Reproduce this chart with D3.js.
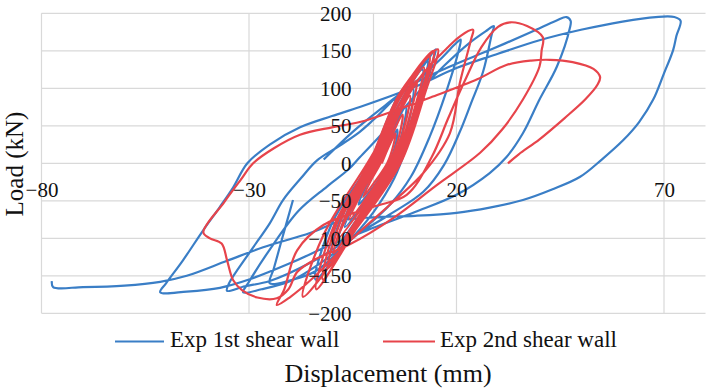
<!DOCTYPE html>
<html>
<head>
<meta charset="utf-8">
<script src="https://cdn.jsdelivr.net/npm/d3@7"></script>
<style>
  html, body { margin: 0; padding: 0; background: #fff; }
  svg { display: block; font-family: "Liberation Serif", "Times New Roman", serif; }
</style>
</head>
<body>
<svg id="chart" width="706" height="391"></svg>
<script>
// tick values
const xTicks = [-80, -30, 20, 70];
const yTicks = [-200, -150, -100, -50, 0, 50, 100, 150, 200];

// series names
const seriesNames = ['Exp 1st shear wall', 'Exp 2nd shear wall'];

// load-displacement points [mm, kN] (null = gap in the record)
const wall1 = [
  [1.5, 0], [3.5, 22], [5.7, 45], [5.4, 27], [3.7, 0], [0.5, -27.5], [-3.6, -55], [-1.5, -27.5], [1.3, 0],
  [4.7, 45], [7.8, 75], [7.1, 45], [4.3, 0], [-0.8, -42.5], [-6.9, -85], [-3.6, -42.5], [0.7, 0],
  [5.3, 60], [9.5, 100], [8.7, 60], [5, 0], [-1.6, -55], [-8.9, -110], [-5.6, -55], [0, 0],
  [5.8, 75], [11.8, 125], [10.3, 75], [5.7, 0], [-2.4, -67.5], [-10.7, -135], [-7.5, -67.5], [-0.7, 0],
  [6, 87], [13, 138], [11, 85], [6, 0], [-3, -75], [-14, -155], [-10, -80], [-1, 0],
  [6, 90], [12, 130], [15, 152], [14.5, 140], [12, 90], [8.5, 30], [5, -20], [0, -65], [-7, -110],
  [-14, -144], [-20, -156], [-25, -160], [-24, -140], [-22, -100], [-19.4, -49], null,
  [-12, 5], [-5, 42], [3, 78], [10, 108], [16, 138], [19.5, 158], [21, 165], [20.6, 152], [17.5, 95], [13.5, 35],
  [9, -18], [4, -55], [-4, -95], [-12, -130], [-20, -157], [-27, -168], [-31.4, -172],
  [-30, -158], [-25, -115], [-18, -63], [-11.2, -31], [-6, -8], [-3.3, 8], [3, 45], [10, 90], [17, 130], [23, 160],
  [27, 176], [29, 183], [28.5, 172], [26.4, 122], [23.5, 80], [20.8, 42], [17, -2], [12, -38], [4, -68], [-5, -98],
  [-15, -132], [-25, -157], [-31, -164], [-35.3, -170],
  [-34.8, -160], [-30, -120], [-25, -80], [-21.8, -49], [-17.5, -20], [-13.6, 4], [-8, 24], [-3.3, 42], [0, 58],
  [8, 100], [18, 128], [28, 151], [38, 175], [44, 190], [46.5, 195], [47.5, 190], [47.3, 180],
  [44.2, 129], [40, 85], [36, 40], [32, 8], [28, -13], [20, -42], [10, -65], [0, -86], [-10, -108], [-20, -133],
  [-30, -155], [-37, -166], [-45, -171], [-51.4, -172],
  [-50, -160], [-46, -130], [-41, -89], [-37, -58], [-33.8, -32], [-30.4, 0], [-25, 25], [-17.7, 48], [-10, 63],
  [-3.3, 75], [10, 102], [20, 127], [30, 146], [40, 164], [50, 178], [60, 189], [68, 195], [72.5, 195], [74, 190],
  [73, 170], [72.2, 151], [70, 120], [67.4, 85], [64, 55], [60.2, 31], [55, 5], [49.8, -18], [43, -35], [36, -49],
  [28, -59], [20, -66], [10, -70], [0, -72], [-7.3, -76], [-15.3, -93], [-26.6, -112], [-35.3, -130], [-45, -150],
  [-51.4, -158], [-60, -163], [-70, -165], [-77.2, -165], [-77.5, -157]
];

const wall2 = [
  [2, 0], [3.5, 20], [5.3, 40], [4.8, 24], [3.3, 0], [0.6, -22.5], [-2.5, -45], [-0.6, -22.5], [1.7, 0],
  [4.6, 39], [7, 65], [6.3, 39], [3.8, 0], [-0.6, -37.5], [-5.8, -75], [-2.7, -37.5], [1.2, 0],
  [5.2, 54], [8.8, 90], [7.7, 54], [4.3, 0], [-1.6, -50], [-8.5, -100], [-4.4, -50], [0.7, 0],
  [5.7, 66], [10.4, 110], [8.9, 66], [4.8, 0], [-2.3, -60], [-9.6, -120], [-5.9, -60], [0.2, 0],
  [6.1, 77], [12.1, 128], [10.1, 77], [5.3, 0], [-3, -70], [-11, -140], [-7.4, -70], [-0.3, 0],
  [6.2, 85], [13.5, 142], [11, 85], [5.7, 0], [-3.4, -77], [-12.2, -155], [-8.6, -77], [-0.7, 0],
  [6.2, 90], [14.5, 150], [11.7, 90], [6.1, 0], [-3.8, -84], [-13.8, -168], [-9.6, -84], [-1.1, 0],
  [6.5, 95], [15.5, 152], [12.5, 95], [6.5, 0], [-4.5, -90], [-17, -178], [-12, -95], [-1.5, 0],
  [6, 70], [12, 120], [18, 155], [21, 170], [24, 178], [23.5, 165], [20.8, 107], [18.4, 40], [12, -13], [5, -50],
  [-5, -100], [-15, -155], [-20, -178], [-23.3, -189],
  [-21.5, -168], [-18.4, -116], [-12, -82], [0, -58], [8, -42], [14, 8], [18, 60], [22, 110], [26, 155], [30, 182],
  [33, 188], [37, 183], [40.8, 168], [40.5, 150], [40, 129], [36, 85], [31, 45], [25.7, 14], [15, -30], [5, -72],
  [-5.7, -108], [-14, -128], [-18.4, -145], [-20.5, -168], [-23.3, -180], [-28, -179], [-31.7, -169], [-33.8, -156],
  [-35.3, -129], [-36.6, -107], [-39.4, -100], [-41, -92],
  [-36, -52], [-32, -22], [-29, 0], [-24, 20], [-17.7, 38], [-10, 48], [-3.3, 55], [5, 70], [14.3, 89], [25, 112],
  [32, 131], [38, 137], [42.5, 138], [48, 135], [53, 126], [54.6, 115], [54, 105], [51, 85], [46, 60], [40, 32],
  [35, 12], [32.4, 0]
];

const colors = ['#3a7ec6', '#e7444b'];
const gridColor = '#d9d9d9';

const svg = d3.select('#chart');

const x = d3.scaleLinear().domain([-80, 80]).range([41.5, 705.5]);
const y = d3.scaleLinear().domain([-200, 200]).range([313.3, 13.3]);

// gridlines
const grid = svg.append('g').attr('class', 'grid');
grid.selectAll('.hgrid')
  .data(yTicks)
  .join('line')
    .attr('class', 'hgrid')
    .attr('x1', x(-80))
    .attr('x2', x(80))
    .attr('y1', (d) => y(d))
    .attr('y2', (d) => y(d))
    .attr('stroke', gridColor)
    .attr('stroke-width', 1.2);
grid.selectAll('.vgrid')
  .data(xTicks.concat([0]))
  .join('line')
    .attr('class', 'vgrid')
    .attr('x1', (d) => x(d))
    .attr('x2', (d) => x(d))
    .attr('y1', y(200))
    .attr('y2', y(-200))
    .attr('stroke', gridColor)
    .attr('stroke-width', 1.2);

// curves
const line = d3.line()
  .defined((d) => d !== null)
  .x((d) => x(d[0]))
  .y((d) => y(d[1]))
  .curve(d3.curveCatmullRom.alpha(0.5));

[wall1, wall2].forEach((pts, i) => {
  svg.append('path')
    .datum(pts)
    .attr('d', line)
    .attr('fill', 'none')
    .attr('stroke', colors[i])
    .attr('stroke-width', 2.2)
    .attr('stroke-linejoin', 'round');
});

// axes (labels only, Excel style: crossing at 0)
const yAxis = svg.append('g')
  .attr('transform', `translate(${x(0)},0)`)
  .call(d3.axisLeft(y).tickValues(yTicks).tickSize(0).tickPadding(22));
const xAxis = svg.append('g')
  .attr('transform', `translate(0,${y(0)})`)
  .call(d3.axisBottom(x).tickValues(xTicks).tickSize(0).tickPadding(19));
[yAxis, xAxis].forEach((g) => {
  g.select('.domain').remove();
  g.selectAll('text')
    .attr('font-family', '"Liberation Serif", "Times New Roman", serif')
    .attr('font-size', 21)
    .attr('fill', '#111');
});

// legend
const legend = svg.append('g');
const legendItems = [
  { x1: 115, x2: 164, tx: 170 },
  { x1: 383, x2: 435, tx: 440 },
];
legendItems.forEach((it, i) => {
  legend.append('line')
    .attr('x1', it.x1).attr('x2', it.x2)
    .attr('y1', 341.5).attr('y2', 341.5)
    .attr('stroke', colors[i])
    .attr('stroke-width', 2.2);
  legend.append('text')
    .attr('x', it.tx)
    .attr('y', 347)
    .attr('font-size', 23)
    .attr('fill', '#111')
    .text(seriesNames[i]);
});

// axis titles
svg.append('text')
  .attr('x', 388)
  .attr('y', 382)
  .attr('text-anchor', 'middle')
  .attr('font-size', 26)
  .attr('fill', '#111')
  .text('Displacement (mm)');
svg.append('text')
  .attr('transform', 'translate(23,164) rotate(-90)')
  .attr('text-anchor', 'middle')
  .attr('font-size', 25)
  .attr('fill', '#111')
  .text('Load (kN)');
</script>
</body>
</html>
